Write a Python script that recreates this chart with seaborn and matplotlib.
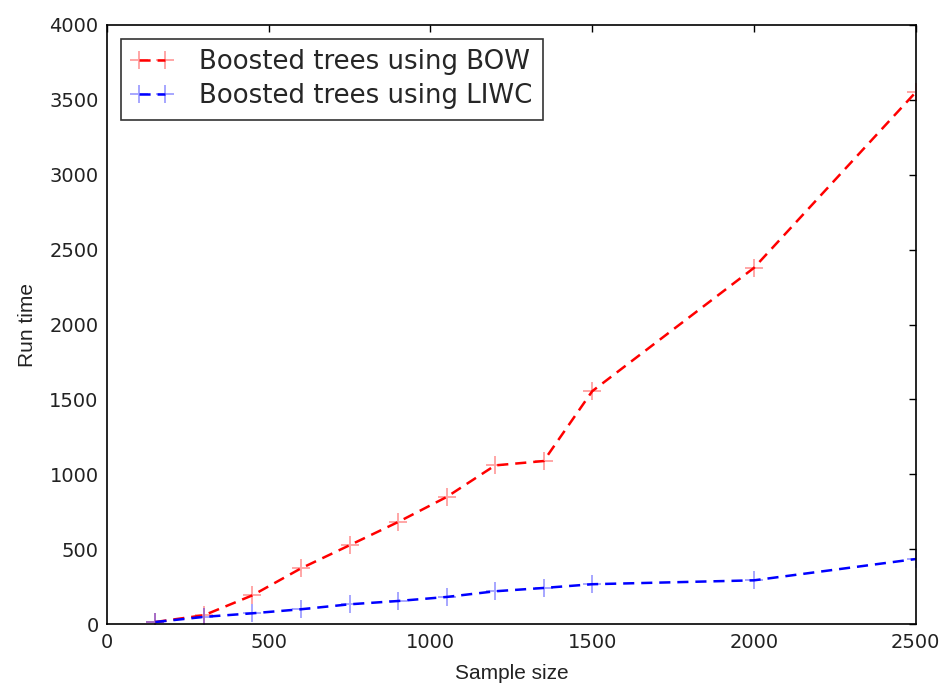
import matplotlib
matplotlib.use("Agg")
import matplotlib.pyplot as plt
import seaborn as sns
import pandas as pd

sample_size = [150, 300, 450, 600, 750, 900, 1050, 1200, 1350, 1500, 2000, 2500]
bow_time = [15, 60, 193, 373, 527, 682, 849, 1060, 1089, 1555, 2378, 3550]
liwc_time = [15, 49, 73, 100, 133, 155, 182, 220, 242, 267, 293, 435]
series_names = ["Boosted trees using BOW", "Boosted trees using LIWC"]
x_ticks = [0, 500, 1000, 1500, 2000, 2500]
y_ticks = [0, 500, 1000, 1500, 2000, 2500, 3000, 3500, 4000]

sns.set_style("white")
plt.rcParams["font.family"] = ["DejaVu Sans"]
plt.rcParams["lines.scale_dashes"] = False

df = pd.DataFrame({
    "Sample size": sample_size * 2,
    "Run time": bow_time + liwc_time,
    "series": [series_names[0]] * len(sample_size) + [series_names[1]] * len(sample_size),
})

fig = plt.figure(figsize=(9.46, 6.89), dpi=100)
ax = fig.add_axes([0.113, 0.094, 0.855, 0.870])

colors = {series_names[0]: (1, 0, 0), series_names[1]: (0, 0, 1)}
for name in series_names:
    sub = df[df["series"] == name]
    c = colors[name]
    sns.lineplot(data=sub, x="Sample size", y="Run time", ax=ax, color=c,
                 linestyle=(0, (8, 5)), linewidth=1.8, marker="+", markersize=13,
                 markeredgewidth=1.4, markeredgecolor=(*c, 0.35), label=name)

ax.set_xlim(0, 2500)
ax.set_ylim(0, 4000)
ax.set_xticks(x_ticks)
ax.set_yticks(y_ticks)
ax.tick_params(axis="both", direction="in", top=True, right=True, length=5,
               width=1, labelsize=14, pad=6, color="black", labelcolor="#222222")
for s in ax.spines.values():
    s.set_color("black")
    s.set_linewidth(1.2)

ax.set_xlabel("Sample size", fontsize=15, family="Liberation Sans", color="#222222", labelpad=9)
ax.set_ylabel("Run time", fontsize=15, family="Liberation Sans", color="#222222", labelpad=9)

leg = ax.legend(loc="upper left", numpoints=2, fontsize=18.7, frameon=True, fancybox=False,
                handlelength=1.6, borderaxespad=0.55, borderpad=0.4, labelspacing=0.3,
                handletextpad=1.0)
leg.get_frame().set_edgecolor("black")
leg.get_frame().set_linewidth(1.2)

fig.savefig("out.png", dpi=100)
